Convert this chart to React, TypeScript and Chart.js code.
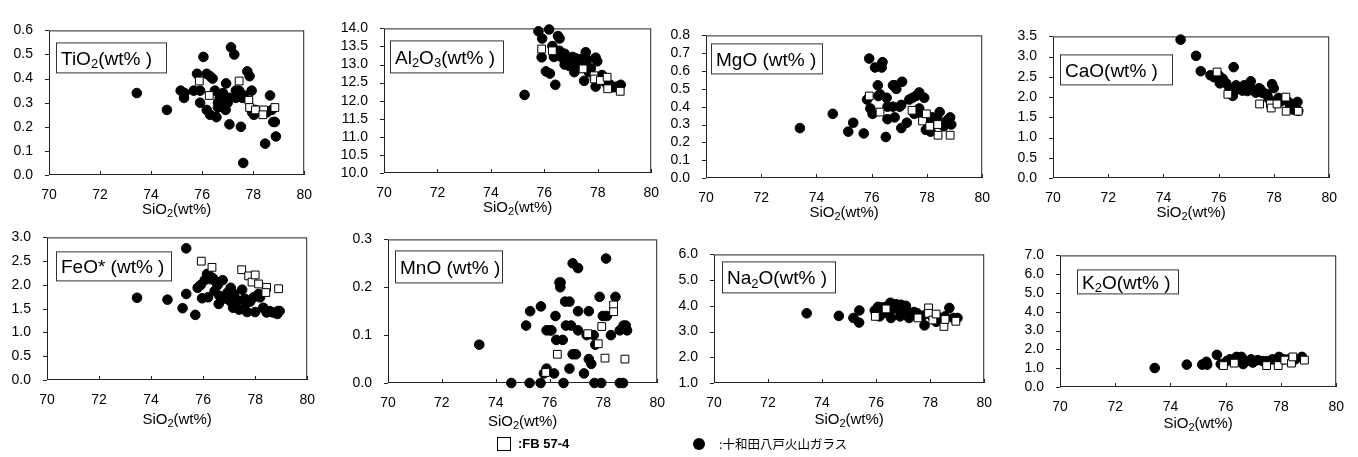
import React, { useEffect, useRef } from 'react';
import { Chart, registerables } from 'chart.js';

Chart.register(...registerables);

type Pt = [number, number];

// ---------- shared axis / legend text ----------
const X_MIN = 70;
const X_MAX = 80;
const X_STEP = 2;
const X_TITLE = 'SiO_2(wt%)';
const LEGEND_FB = ':FB 57-4';
const LEGEND_GLASS = ':十和田八戸火山ガラス';

// ---------- data: [SiO2, oxide] ----------
const TIO2_GLASS: Pt[] = [
  [73.44, 0.34], [74.62, 0.27], [75.16, 0.35], [75.31, 0.34], [75.29, 0.32], [75.67, 0.35],
  [75.80, 0.42], [75.92, 0.35], [75.92, 0.30], [76.05, 0.49], [76.18, 0.42], [76.31, 0.41],
  [76.41, 0.40], [76.18, 0.27], [76.31, 0.25], [76.50, 0.35], [76.56, 0.24], [76.62, 0.28],
  [76.69, 0.32], [76.82, 0.34], [76.82, 0.30], [76.92, 0.27], [76.94, 0.38], [77.07, 0.32],
  [77.07, 0.21], [77.13, 0.53], [77.26, 0.50], [77.32, 0.35], [77.32, 0.32], [77.45, 0.35],
  [77.52, 0.20], [77.58, 0.32], [77.64, 0.33], [77.61, 0.05], [77.77, 0.43], [77.86, 0.41],
  [77.94, 0.35], [77.96, 0.26], [78.03, 0.25], [78.09, 0.27], [78.54, 0.26], [78.66, 0.33],
  [78.73, 0.27], [78.79, 0.22], [78.85, 0.22], [78.89, 0.16], [78.47, 0.13], [76.62, 0.30],
  [76.75, 0.29], [77.00, 0.30],
];
const TIO2_FB: Pt[] = [
  [75.89, 0.39], [76.28, 0.33], [77.45, 0.39], [77.83, 0.31], [77.86, 0.28], [78.09, 0.27],
  [78.41, 0.27], [78.38, 0.25], [78.85, 0.28],
];

const AL2O3_GLASS: Pt[] = [
  [75.26, 12.16], [75.78, 13.92], [75.92, 13.72], [75.90, 13.20], [76.06, 12.81], [76.21, 12.75],
  [76.18, 13.97], [76.30, 13.51], [76.41, 12.44], [76.36, 13.21], [76.51, 13.79], [76.57, 13.72],
  [76.57, 13.38], [76.63, 13.21], [76.76, 13.30], [76.76, 13.13], [76.76, 13.00], [76.88, 13.09],
  [76.94, 12.96], [77.00, 13.13], [77.06, 13.21], [77.12, 12.79], [77.18, 13.17], [77.25, 13.00],
  [77.34, 13.15], [77.43, 12.96], [77.49, 12.55], [77.55, 13.34], [77.61, 13.13], [77.67, 12.79],
  [77.74, 12.89], [77.92, 13.19], [77.98, 13.09], [77.92, 12.39], [78.16, 12.71], [78.29, 12.50],
  [78.47, 12.44], [78.59, 12.37], [78.72, 12.39], [78.86, 12.44],
];
const AL2O3_FB: Pt[] = [
  [75.90, 13.43], [76.30, 13.38], [77.45, 12.88], [77.86, 12.69], [77.88, 12.60], [78.10, 12.56],
  [78.35, 12.65], [78.37, 12.33], [78.84, 12.26],
];

const MGO_GLASS: Pt[] = [
  [73.40, 0.28], [74.59, 0.36], [75.15, 0.26], [75.33, 0.31], [75.71, 0.25], [75.91, 0.67],
  [75.83, 0.44], [75.95, 0.39], [76.03, 0.36], [76.12, 0.62], [76.22, 0.52], [76.24, 0.46],
  [76.30, 0.47], [76.36, 0.62], [76.39, 0.65], [76.54, 0.45], [76.51, 0.23], [76.57, 0.33],
  [76.57, 0.40], [76.77, 0.40], [76.77, 0.52], [76.83, 0.52], [76.89, 0.50], [76.83, 0.34],
  [77.01, 0.40], [77.07, 0.41], [77.10, 0.54], [77.07, 0.28], [77.27, 0.31], [77.36, 0.44],
  [77.48, 0.45], [77.54, 0.36], [77.60, 0.46], [77.72, 0.48], [77.72, 0.39], [77.84, 0.35],
  [77.90, 0.45], [77.96, 0.27], [78.07, 0.31], [78.13, 0.26], [78.19, 0.34], [78.25, 0.32],
  [78.37, 0.34], [78.46, 0.37], [78.61, 0.29], [78.72, 0.32], [78.78, 0.33], [78.84, 0.34],
  [78.88, 0.30],
];
const MGO_FB: Pt[] = [
  [75.91, 0.46], [76.30, 0.37], [77.46, 0.38], [77.84, 0.32], [77.98, 0.36], [78.10, 0.29],
  [78.39, 0.30], [78.40, 0.24], [78.84, 0.24],
];

const CAO_GLASS: Pt[] = [
  [74.62, 3.42], [75.18, 3.02], [75.35, 2.64], [75.70, 2.54], [75.83, 2.49], [76.01, 2.53],
  [76.15, 2.45], [76.04, 2.34], [76.27, 2.34], [76.39, 2.22], [76.54, 2.74], [76.51, 2.03],
  [76.57, 2.15], [76.63, 2.29], [76.75, 2.22], [76.86, 2.16], [76.92, 2.29], [77.04, 2.15],
  [77.16, 2.39], [77.22, 2.19], [77.34, 2.11], [77.46, 2.22], [77.51, 2.19], [77.57, 2.11],
  [77.67, 2.09], [77.75, 2.06], [77.81, 1.96], [77.93, 2.32], [77.99, 2.22], [78.17, 1.98],
  [78.22, 1.88], [78.52, 1.88], [78.58, 1.81], [78.76, 1.77], [78.85, 1.88], [78.88, 1.66],
  [78.70, 1.69],
];
const CAO_FB: Pt[] = [
  [75.94, 2.62], [76.33, 2.07], [77.48, 1.83], [77.87, 1.83], [77.90, 1.73], [78.11, 1.83],
  [78.43, 2.00], [78.44, 1.65], [78.88, 1.65],
];

const FEO_GLASS: Pt[] = [
  [73.46, 1.73], [74.63, 1.69], [75.21, 1.51], [75.35, 2.77], [75.35, 1.81], [75.70, 1.37],
  [75.79, 1.94], [75.91, 2.00], [75.96, 1.72], [76.06, 2.10], [76.15, 2.23], [76.19, 1.74],
  [76.25, 2.19], [76.29, 2.12], [76.38, 2.14], [76.44, 1.87], [76.50, 2.06], [76.56, 2.00],
  [76.60, 1.60], [76.63, 1.77], [76.75, 2.10], [76.81, 1.74], [76.88, 1.71], [76.94, 1.84],
  [77.06, 1.65], [77.06, 1.94], [77.15, 1.52], [77.19, 1.81], [77.31, 1.68], [77.38, 1.48],
  [77.50, 1.90], [77.60, 1.71], [77.63, 1.61], [77.69, 1.43], [77.81, 1.65], [77.94, 1.74],
  [78.00, 1.43], [78.13, 1.81], [78.19, 1.74], [78.31, 1.52], [78.44, 1.42], [78.56, 1.45],
  [78.69, 1.42], [78.85, 1.39], [78.88, 1.45], [78.94, 1.45],
];
const FEO_FB: Pt[] = [
  [75.93, 2.50], [76.34, 2.37], [77.48, 2.32], [77.75, 2.19], [77.88, 2.06], [78.00, 2.21],
  [78.13, 2.02], [78.44, 1.95], [78.41, 1.84], [78.90, 1.92],
];

const MNO_GLASS: Pt[] = [
  [73.39, 0.08], [74.58, 0.0], [75.13, 0.12], [75.28, 0.15], [75.26, 0.0], [75.67, 0.0],
  [75.68, 0.16], [75.89, 0.11], [76.01, 0.11], [76.07, 0.11], [75.79, 0.02], [75.89, 0.03],
  [76.17, 0.02], [76.22, 0.14], [76.25, 0.09], [76.37, 0.21], [76.41, 0.21], [76.40, 0.20],
  [76.49, 0.09], [76.52, 0.0], [76.58, 0.17], [76.61, 0.12], [76.74, 0.03], [76.74, 0.17],
  [76.80, 0.12], [76.86, 0.25], [76.86, 0.06], [76.98, 0.06], [77.06, 0.24], [77.06, 0.15],
  [77.06, 0.11], [77.28, 0.02], [77.38, 0.10], [77.46, 0.15], [77.46, 0.05], [77.55, 0.04],
  [77.64, 0.10], [77.67, 0.0], [77.70, 0.08], [77.86, 0.18], [77.92, 0.0], [77.98, 0.14],
  [78.13, 0.14], [78.10, 0.26], [78.28, 0.10], [78.45, 0.18], [78.61, 0.11], [78.61, 0.0],
  [78.73, 0.0], [78.75, 0.12], [78.83, 0.12], [78.88, 0.11],
];
const MNO_FB: Pt[] = [
  [75.86, 0.022], [76.29, 0.06], [77.42, 0.103], [77.81, 0.082], [77.94, 0.118], [78.06, 0.052],
  [78.38, 0.163], [78.38, 0.149], [78.80, 0.05],
];

const NA2O_GLASS: Pt[] = [
  [73.43, 3.71], [74.62, 3.61], [75.16, 3.53], [75.37, 3.35], [75.38, 3.82], [75.95, 3.82],
  [76.07, 3.96], [76.13, 3.59], [76.19, 3.82], [76.25, 3.94], [76.31, 3.73], [76.43, 4.00],
  [76.53, 4.12], [76.55, 3.53], [76.61, 3.88], [76.67, 3.96], [76.74, 4.06], [76.86, 3.82],
  [76.89, 3.59], [76.92, 4.04], [77.04, 3.82], [77.10, 4.00], [77.22, 3.53], [77.28, 3.71],
  [77.40, 3.76], [77.52, 3.71], [77.70, 3.59], [77.79, 3.24], [77.88, 3.71], [78.07, 3.59],
  [78.22, 3.38], [78.37, 3.53], [78.55, 3.59], [78.71, 3.92], [78.85, 3.53], [79.01, 3.53],
];
const NA2O_FB: Pt[] = [
  [75.97, 3.59], [76.37, 3.88], [77.55, 3.53], [77.94, 3.92], [77.94, 3.71], [78.10, 3.45],
  [78.22, 3.68], [78.51, 3.20], [78.55, 3.47], [78.95, 3.40],
];

const K2O_GLASS: Pt[] = [
  [73.43, 1.01], [74.59, 1.19], [75.15, 1.19], [75.30, 1.34], [75.33, 1.19], [75.68, 1.71],
  [75.82, 1.22], [76.04, 1.38], [76.15, 1.47], [76.39, 1.60], [76.45, 1.38], [76.57, 1.60],
  [76.63, 1.22], [76.75, 1.38], [76.92, 1.47], [76.98, 1.30], [77.16, 1.43], [77.34, 1.38],
  [77.51, 1.38], [77.69, 1.47], [77.93, 1.60], [78.11, 1.47], [78.28, 1.47], [78.52, 1.47],
  [78.76, 1.60],
];
const K2O_FB: Pt[] = [
  [75.92, 1.14], [76.31, 1.27], [77.48, 1.14], [77.90, 1.14], [78.14, 1.43], [78.38, 1.27],
  [78.43, 1.60], [78.85, 1.43],
];

// ---------- panel definitions ----------
type Panel = {
  label: string;
  glass: Pt[];
  fb: Pt[];
  yMin: number;
  yMax: number;
  yStep: number;
};

const PANELS: Panel[] = [
  { label: 'TiO_2(wt% )', glass: TIO2_GLASS, fb: TIO2_FB, yMin: 0, yMax: 0.6, yStep: 0.1 },
  { label: 'Al_2O_3(wt% )', glass: AL2O3_GLASS, fb: AL2O3_FB, yMin: 10, yMax: 14, yStep: 0.5 },
  { label: 'MgO (wt% )', glass: MGO_GLASS, fb: MGO_FB, yMin: 0, yMax: 0.8, yStep: 0.1 },
  { label: 'CaO(wt% )', glass: CAO_GLASS, fb: CAO_FB, yMin: 0, yMax: 3.5, yStep: 0.5 },
  { label: 'FeO* (wt% )', glass: FEO_GLASS, fb: FEO_FB, yMin: 0, yMax: 3, yStep: 0.5 },
  { label: 'MnO (wt% )', glass: MNO_GLASS, fb: MNO_FB, yMin: 0, yMax: 0.3, yStep: 0.1 },
  { label: 'Na_2O(wt% )', glass: NA2O_GLASS, fb: NA2O_FB, yMin: 1, yMax: 6, yStep: 1 },
  { label: 'K_2O(wt% )', glass: K2O_GLASS, fb: K2O_FB, yMin: 0, yMax: 7, yStep: 1 },
];

// layout (page pixels): plot area [left, top, right, bottom], x-title centre y, label box [dx, dy, w, h]
type Layout = { plot: [number, number, number, number]; titleY: number; box: [number, number, number, number] };
const LAYOUT: Layout[] = [
  { plot: [49, 18, 310, 175], titleY: 209, box: [7, 12, 110, 30] },
  { plot: [384, 16, 657, 173], titleY: 207, box: [6, 12, 113, 32] },
  { plot: [706, 23, 988, 178], titleY: 212, box: [5, 8, 111, 30] },
  { plot: [1053, 24, 1335, 178], titleY: 212, box: [7, 18, 112, 30] },
  { plot: [47, 225, 313, 380], titleY: 419, box: [9, 14, 115, 29] },
  { plot: [388, 227, 663, 383], titleY: 421, box: [7, 11, 107, 32] },
  { plot: [714, 242, 990, 383], titleY: 419, box: [8, 7, 113, 31] },
  { plot: [1060, 243, 1342, 387], titleY: 423, box: [17, 14, 101, 24] },
];

const FONT = '"Liberation Sans", Arial, "Noto Sans CJK JP", sans-serif';
const INK = '#000';
const YW = 45; // room for y tick labels
const PT = 12;
const PR = 14;

function drawRich(
  ctx: CanvasRenderingContext2D,
  text: string,
  x: number,
  yMid: number,
  size: number,
  align: 'left' | 'center',
) {
  const segs: { t: string; sub: boolean }[] = [];
  for (let i = 0; i < text.length; i++) {
    if (text[i] === '_' && i + 1 < text.length) {
      segs.push({ t: text[i + 1], sub: true });
      i++;
    } else {
      const last = segs[segs.length - 1];
      if (last && !last.sub) last.t += text[i];
      else segs.push({ t: text[i], sub: false });
    }
  }
  const subSize = Math.round(size * 0.7);
  const widths = segs.map((s) => {
    ctx.font = `${s.sub ? subSize : size}px ${FONT}`;
    return ctx.measureText(s.t).width;
  });
  const total = widths.reduce((a, b) => a + b, 0);
  let cx = align === 'center' ? x - total / 2 : x;
  const base = yMid + size * 0.36;
  ctx.textAlign = 'left';
  ctx.textBaseline = 'alphabetic';
  ctx.fillStyle = INK;
  segs.forEach((s, i) => {
    ctx.font = `${s.sub ? subSize : size}px ${FONT}`;
    ctx.fillText(s.t, cx, s.sub ? base + size * 0.18 : base);
    cx += widths[i];
  });
}

function PanelChart({ panel, layout }: { panel: Panel; layout: Layout }) {
  const ref = useRef<HTMLCanvasElement | null>(null);
  const [l, t, r, b] = layout.plot;
  const cLeft = l - YW;
  const cTop = t - PT;
  const width = r - l + YW + PR;
  const height = layout.titleY + 12 - cTop;
  const XH = height - PT - (b - t);

  useEffect(() => {
    if (!ref.current) return;
    const yTicks: number[] = [];
    const nSteps = Math.round((panel.yMax - panel.yMin) / panel.yStep);
    for (let i = 0; i <= nSteps; i++) yTicks.push(panel.yMin + i * panel.yStep);
    const xTicks: number[] = [];
    for (let v = X_MIN; v <= X_MAX; v += X_STEP) xTicks.push(v);

    const decor = {
      id: 'decor',
      beforeDatasetsDraw(chart: any) {
        const { ctx, chartArea: a, scales } = chart;
        ctx.save();
        ctx.strokeStyle = '#222';
        ctx.lineWidth = 1;
        ctx.strokeRect(a.left + 0.5, a.top + 0.5, a.width - 1, a.height - 1);
        ctx.beginPath();
        scales.y.ticks.forEach((tk: any) => {
          const py = Math.round(scales.y.getPixelForValue(tk.value)) + 0.5;
          ctx.moveTo(a.left - 4, py);
          ctx.lineTo(a.left, py);
        });
        scales.x.ticks.forEach((tk: any) => {
          const px = Math.round(scales.x.getPixelForValue(tk.value)) + 0.5;
          ctx.moveTo(px, a.bottom);
          ctx.lineTo(px, a.bottom - 4);
        });
        ctx.stroke();
        const [dx, dy, bw, bh] = layout.box;
        const bx = a.left + dx;
        const by = a.top + dy;
        ctx.fillStyle = '#fff';
        ctx.fillRect(bx, by, bw, bh);
        ctx.strokeStyle = '#333';
        ctx.strokeRect(bx + 0.5, by + 0.5, bw, bh);
        drawRich(ctx, panel.label, bx + 5, by + bh / 2 + 0.5, 19, 'left');
        drawRich(ctx, X_TITLE, (a.left + a.right) / 2, layout.titleY - cTop, 15, 'center');
        ctx.restore();
      },
    };

    const chart = new Chart(ref.current, {
      type: 'scatter',
      data: {
        datasets: [
          {
            label: LEGEND_FB,
            data: panel.fb.map(([x, y]) => ({ x, y })),
            pointStyle: 'rect',
            pointRadius: 5.5,
            pointBackgroundColor: '#fff',
            pointBorderColor: '#000',
            pointBorderWidth: 1,
            clip: false as any,
          },
          {
            label: LEGEND_GLASS,
            data: panel.glass.map(([x, y]) => ({ x, y })),
            pointStyle: 'circle',
            pointRadius: 4.8,
            pointBackgroundColor: '#000',
            pointBorderColor: '#000',
            pointBorderWidth: 1,
            clip: false as any,
          },
        ],
      },
      options: {
        animation: false,
        responsive: false,
        events: [],
        layout: { padding: { top: PT, right: PR, left: 0, bottom: 0 } },
        plugins: { legend: { display: false }, tooltip: { enabled: false } },
        scales: {
          x: {
            type: 'linear',
            min: X_MIN,
            max: X_MAX,
            afterBuildTicks: (s: any) => {
              s.ticks = xTicks.map((v) => ({ value: v }));
            },
            afterFit: (s: any) => {
              s.height = XH;
            },
            ticks: {
              autoSkip: false,
              color: INK,
              padding: 12,
              font: { family: FONT, size: 14 },
              callback: (v: any) => String(v),
            },
            grid: { display: false, drawTicks: false },
            border: { display: false },
          },
          y: {
            type: 'linear',
            min: panel.yMin,
            max: panel.yMax,
            afterBuildTicks: (s: any) => {
              s.ticks = yTicks.map((v) => ({ value: v }));
            },
            afterFit: (s: any) => {
              s.width = YW;
            },
            ticks: {
              autoSkip: false,
              color: INK,
              padding: 16,
              font: { family: FONT, size: 14 },
              callback: (v: any) => Number(v).toFixed(1),
            },
            grid: { display: false, drawTicks: false },
            border: { display: false },
          },
        },
      },
      plugins: [decor],
    });
    return () => chart.destroy();
  }, [panel, layout]);

  return (
    <canvas
      ref={ref}
      width={width}
      height={height}
      style={{ position: 'absolute', left: cLeft, top: cTop, width, height }}
    />
  );
}

export default function App() {
  return (
    <div
      style={{
        position: 'absolute',
        left: 0,
        top: 0,
        width: 1358,
        height: 457,
        background: '#fff',
        overflow: 'hidden',
      }}
    >
      {PANELS.map((p, i) => (
        <PanelChart key={i} panel={p} layout={LAYOUT[i]} />
      ))}
      <div
        style={{
          position: 'absolute',
          left: 497,
          top: 437,
          width: 14,
          height: 14,
          border: '1px solid #000',
          boxSizing: 'border-box',
          background: '#fff',
        }}
      />
      <div
        style={{
          position: 'absolute',
          left: 518,
          top: 436,
          height: 16,
          lineHeight: '16px',
          fontFamily: FONT,
          fontWeight: 'bold',
          fontSize: 13,
          color: '#000',
          whiteSpace: 'nowrap',
        }}
      >
        {LEGEND_FB}
      </div>
      <div
        style={{
          position: 'absolute',
          left: 693,
          top: 438,
          width: 12,
          height: 12,
          borderRadius: '50%',
          background: '#000',
        }}
      />
      <div
        style={{
          position: 'absolute',
          left: 719,
          top: 436,
          height: 16,
          lineHeight: '16px',
          fontFamily: '"Noto Sans CJK JP", sans-serif',
          fontSize: 12.5,
          color: '#000',
          whiteSpace: 'nowrap',
        }}
      >
        {LEGEND_GLASS}
      </div>
    </div>
  );
}
